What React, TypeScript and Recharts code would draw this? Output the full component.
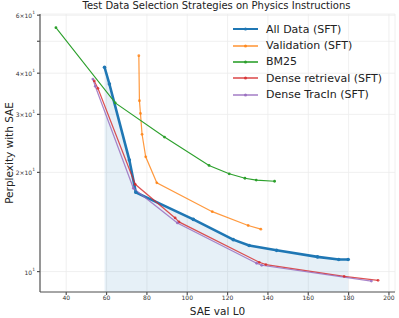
import React from "react"
import {
  ComposedChart,
  Line,
  Area,
  XAxis,
  YAxis,
  CartesianGrid,
} from "recharts"

const allDataX = [59.0, 61.4, 71.3, 74.5, 103, 122.8, 130.7, 144.3, 164.6, 175.1, 179.8]
const allDataY = [41.7, 37.1, 21.8, 17.4, 14.4, 12.5, 12.0, 11.6, 11.08, 10.88, 10.88]

const validationX = [76.0, 76.3, 76.8, 77.6, 79.4, 84.9, 112.4, 130.2, 136.5]
const validationY = [45.2, 33.0, 30.2, 26.1, 22.3, 18.6, 15.2, 13.8, 13.45]

const bm25X = [34.9, 64.3, 88.7, 110.8, 120.8, 128.6, 134.2, 143.3]
const bm25Y = [55.0, 32.5, 25.6, 21.0, 19.8, 19.2, 18.95, 18.8]

const denseX = [53.9, 55.7, 74.2, 94.0, 95.9, 135.7, 139.0, 177.8, 194.6]
const denseY = [37.9, 36.0, 18.4, 14.55, 14.15, 10.67, 10.5, 9.67, 9.41]

const tracinX = [53.2, 54.4, 73.3, 95.1, 134.4, 136.9, 191.3]
const tracinY = [38.4, 36.5, 17.9, 14.05, 10.6, 10.45, 9.36]

const xTicks = [40, 60, 80, 100, 120, 140, 160, 180, 200]
const yTicks = [9, 10, 20, 30, 40, 50, 60]
const yLabels: Record<number, string> = { 10: "10", 20: "2×10", 30: "3×10", 40: "4×10", 60: "6×10" }

const zip = (xs: number[], ys: number[]) => xs.map((x, i) => ({ x, y: ys[i] }))

const series = [
  { name: "All Data (SFT)", color: "#1f77b4", width: 2.6, opacity: 1, data: zip(allDataX, allDataY) },
  { name: "Validation (SFT)", color: "#ff7f0e", width: 1.2, opacity: 0.8, data: zip(validationX, validationY) },
  { name: "BM25", color: "#2ca02c", width: 1.1, opacity: 1, data: zip(bm25X, bm25Y) },
  { name: "Dense retrieval (SFT)", color: "#d62728", width: 1.2, opacity: 0.8, data: zip(denseX, denseY) },
  { name: "Dense TracIn (SFT)", color: "#9467bd", width: 1.2, opacity: 0.8, data: zip(tracinX, tracinY) },
]

const font = "DejaVu Sans, sans-serif"

function YTick({ x, y, payload }: any) {
  const label = yLabels[payload.value]
  if (!label) return null
  return (
    <text x={x} y={y} textAnchor="end" dominantBaseline="central" fontSize={6} fill="#333" fontFamily={font}>
      <tspan>{label}</tspan>
      <tspan dy={-3} fontSize={4.5}>1</tspan>
    </text>
  )
}

function LegendBox() {
  return (
    <div
      style={{
        position: "absolute",
        left: 230,
        top: 21,
        fontFamily: font,
        fontSize: 11,
        color: "#222",
        zIndex: 2,
      }}
    >
      {series.map((s) => (
        <div key={s.name} style={{ display: "flex", alignItems: "center", height: 16.4 }}>
          <svg width={32} height={10} style={{ marginRight: 4 }}>
            <line x1={3} y1={5} x2={28} y2={5} stroke={s.color} strokeWidth={s.width > 2 ? 2 : 1.6} strokeOpacity={s.opacity} />
            <circle cx={15.5} cy={5} r={1.5} fill={s.color} fillOpacity={s.opacity} />
          </svg>
          <span>{s.name}</span>
        </div>
      ))}
    </div>
  )
}

export default function App() {
  return (
    <div style={{ position: "absolute", left: 0, top: 0, width: 399, height: 318, background: "#fff" }}>
      <div
        style={{
          position: "absolute",
          left: 0,
          top: 0,
          width: 433,
          textAlign: "center",
          fontFamily: font,
          fontSize: 10,
          lineHeight: "12px",
          color: "#222",
          zIndex: 2,
        }}
      >
        Test Data Selection Strategies on Physics Instructions
      </div>
      <LegendBox />
      <ComposedChart width={399} height={318} margin={{ top: 14, right: 4, bottom: 0, left: 0 }}>
        <CartesianGrid stroke="#ececec" strokeWidth={0.8} />
        <XAxis
          dataKey="x"
          type="number"
          domain={[27, 203]}
          ticks={xTicks}
          allowDataOverflow
          height={26}
          tickSize={3}
          tickMargin={1}
          stroke="#555"
          strokeWidth={1.2}
          tick={{ fontSize: 6, fill: "#333", fontFamily: font }}
          label={{ value: "SAE val L0", position: "insideBottom", offset: 3, fontSize: 10.5, fill: "#222", fontFamily: font }}
        />
        <YAxis
          dataKey="y"
          type="number"
          scale="log"
          domain={[8.67, 60.5]}
          ticks={yTicks}
          allowDataOverflow
          width={40}
          tickSize={3}
          tickMargin={2}
          stroke="#555"
          strokeWidth={1.2}
          tick={<YTick />}
          label={{
            value: "Perplexity with SAE",
            angle: -90,
            position: "insideLeft",
            offset: 9,
            fontSize: 10.5,
            fill: "#222",
            fontFamily: font,
            style: { textAnchor: "middle" },
          }}
        />
        <Area
          data={series[0].data}
          dataKey="y"
          type="linear"
          baseValue={8.67}
          fill="#1f77b4"
          fillOpacity={0.11}
          stroke="none"
          isAnimationActive={false}
          legendType="none"
        />
        {series.map((s) => (
          <Line
            key={s.name}
            name={s.name}
            data={s.data}
            dataKey="y"
            type="linear"
            stroke={s.color}
            strokeWidth={s.width}
            strokeOpacity={s.opacity}
            dot={{ r: s.width > 2 ? 1.8 : 1.4, fill: s.color, fillOpacity: s.opacity, strokeWidth: 0 }}
            activeDot={false}
            isAnimationActive={false}
          />
        ))}
      </ComposedChart>
    </div>
  )
}
